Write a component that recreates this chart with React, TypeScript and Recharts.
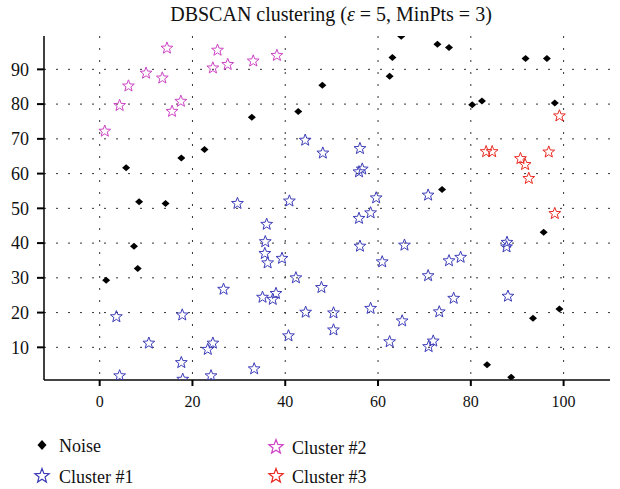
import { ScatterChart, Scatter, XAxis, YAxis, CartesianGrid } from "recharts";

// points, [x, y]
const noise: [number, number][] = [
  [1.4, 29.3], [5.7, 61.7], [7.4, 39.1], [8.2, 32.7], [8.5, 51.9], [14.2, 51.4],
  [17.6, 64.5], [22.6, 66.9], [32.8, 76.2], [42.8, 77.9], [48, 85.4], [62.5, 88],
  [63.1, 93.4], [65, 99.5], [72.8, 97.2], [75.3, 96.3], [73.8, 55.4], [80.3, 79.8],
  [82.4, 80.9], [91.8, 93.1], [96.4, 93.1], [98.1, 80.3], [95.7, 43.1], [99.1, 21],
  [93.4, 18.4], [83.5, 5], [88.7, 1.4],
];

const cluster1: [number, number][] = [
  [44.3, 69.6], [48.1, 65.9], [29.7, 51.4], [40.9, 52.1], [56.1, 67.2], [55.9, 60.5],
  [56.6, 61.3], [59.6, 53], [70.8, 53.8], [36, 45.4], [35.7, 40.4], [35.6, 37],
  [36.2, 34.3], [39.3, 35.6], [42.3, 30], [26.7, 26.7], [35.1, 24.4], [37.3, 23.8],
  [38, 25.5], [47.8, 27.2], [44.4, 20.1], [50.4, 19.9], [50.4, 15], [40.7, 13.3],
  [24.4, 11.2], [23.3, 9.4], [33.3, 3.8], [24, 1.8], [55.9, 47.1], [58.4, 48.7],
  [56.1, 39.1], [65.7, 39.4], [60.9, 34.6], [75.3, 34.9], [77.8, 35.9], [70.8, 30.6],
  [76.3, 24.1], [58.4, 21.2], [73.2, 20.2], [65.2, 17.6], [62.5, 11.6], [71.9, 11.8],
  [70.9, 10.2], [87.8, 40.2], [87.7, 38.9], [88, 24.7], [3.6, 18.8], [17.8, 19.3],
  [10.6, 11.2], [17.6, 5.6], [4.3, 1.8], [17.9, 0.8],
];

const cluster2: [number, number][] = [
  [14.5, 96.1], [10, 88.9], [13.5, 87.5], [6.2, 85.2], [4.3, 79.6], [17.5, 80.8],
  [15.6, 77.9], [1.1, 72.2], [25.4, 95.5], [24.4, 90.4], [27.6, 91.4], [33.1, 92.4],
  [38.2, 94],
];

const cluster3: [number, number][] = [
  [83.3, 66.3], [84.6, 66.3], [90.7, 64.3], [91.7, 62.6], [92.5, 58.6], [96.8, 66.2],
  [98.1, 48.5], [99.1, 76.6],
];

const xTicks = [0, 20, 40, 60, 80, 100];
const yTicks = [10, 20, 30, 40, 50, 60, 70, 80, 90];
const xDomain: [number, number] = [-12, 110];
const yDomain: [number, number] = [0.6, 99.6];

const BLUE = "#3c3cb8";
const MAGENTA = "#cc44c4";
const RED = "#e82a22";
const FONT = "'Liberation Serif', 'DejaVu Serif', serif";

const toRows = (pts: [number, number][]) => pts.map(([x, y]) => ({ x, y }));

function starPath(cx: number, cy: number, r: number) {
  let d = "";
  for (let i = 0; i < 10; i++) {
    const rad = i % 2 === 0 ? r : r * 0.42;
    const a = -Math.PI / 2 + (i * Math.PI) / 5;
    d += (i === 0 ? "M" : "L") + (cx + rad * Math.cos(a)).toFixed(2) + "," + (cy + rad * Math.sin(a)).toFixed(2);
  }
  return d + "Z";
}

const starShape = (color: string) => (props: any) =>
  <path d={starPath(props.cx, props.cy, 6.2)} fill="none" stroke={color} strokeWidth={1} />;

const diamondShape = (props: any) => {
  const { cx, cy } = props;
  return <path d={`M${cx},${cy - 3.5}L${cx + 4},${cy}L${cx},${cy + 3.5}L${cx - 4},${cy}Z`} fill="#000" />;
};

// grid only at the labelled ticks (no border line at the top)
const hLines = ({ offset }: any) =>
  yTicks.map((t) => offset.top + (offset.height * (yDomain[1] - t)) / (yDomain[1] - yDomain[0]));
const vLines = ({ offset }: any) =>
  xTicks.map((t) => offset.left + (offset.width * (t - xDomain[0])) / (xDomain[1] - xDomain[0]));

export default function App() {
  return (
    <div style={{ position: "absolute", left: 0, top: 0, width: 620, height: 489, background: "#fff" }}>
      <ScatterChart width={620} height={489} margin={{ top: 36, right: 10, left: 4, bottom: 79 }}>
        <CartesianGrid
          stroke="#333"
          strokeDasharray="2 10"
          horizontalCoordinatesGenerator={hLines}
          verticalCoordinatesGenerator={vLines}
        />
        <XAxis
          type="number"
          dataKey="x"
          domain={xDomain}
          ticks={xTicks}
          height={30}
          allowDataOverflow
          axisLine={{ stroke: "#444", strokeWidth: 2 }}
          tickLine={{ stroke: "#000", strokeWidth: 2 }}
          tickSize={6}
          tickMargin={10}
          tick={{ fill: "#111", fontSize: 16, fontFamily: FONT }}
        />
        <YAxis
          type="number"
          dataKey="y"
          domain={yDomain}
          ticks={yTicks}
          width={40}
          allowDataOverflow
          axisLine={{ stroke: "#000", strokeWidth: 1.5 }}
          tickLine={{ stroke: "#000", strokeWidth: 2 }}
          tickSize={7}
          tickMargin={8}
          tick={{ fill: "#111", fontSize: 18, fontFamily: FONT }}
        />
        <Scatter data={toRows(noise)} shape={diamondShape} isAnimationActive={false} />
        <Scatter data={toRows(cluster1)} shape={starShape(BLUE)} isAnimationActive={false} />
        <Scatter data={toRows(cluster2)} shape={starShape(MAGENTA)} isAnimationActive={false} />
        <Scatter data={toRows(cluster3)} shape={starShape(RED)} isAnimationActive={false} />
      </ScatterChart>

      {/* title + legend overlay */}
      <svg width={620} height={489} style={{ position: "absolute", left: 0, top: 0, pointerEvents: "none" }}>
        <text x={331} y={21} textAnchor="middle" fontSize={20} fontFamily={FONT} fill="#111">
          DBSCAN clustering (<tspan fontStyle="italic">ε</tspan> = 5, MinPts = 3)
        </text>
        <g fontSize={18} fontFamily={FONT} fill="#111">
          <path d="M42,440L46.5,445L42,450L37.5,445Z" fill="#000" />
          <text x={59} y={452}>Noise</text>
          <path d={starPath(42, 476, 7.5)} fill="none" stroke={BLUE} strokeWidth={1.2} />
          <text x={59} y={483}>Cluster #1</text>
          <path d={starPath(276, 447, 7.5)} fill="none" stroke={MAGENTA} strokeWidth={1.2} />
          <text x={292} y={454}>Cluster #2</text>
          <path d={starPath(276, 476, 7.5)} fill="none" stroke={RED} strokeWidth={1.2} />
          <text x={292} y={483}>Cluster #3</text>
        </g>
      </svg>
    </div>
  );
}
